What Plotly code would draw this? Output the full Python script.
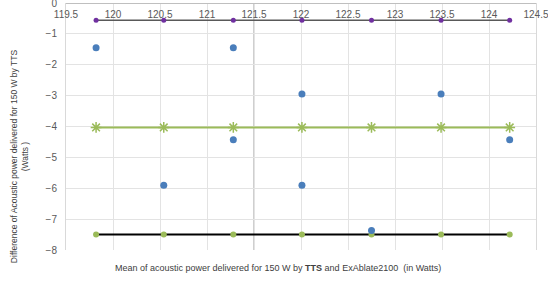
import plotly.graph_objects as go

# Data
mean_power = [119.82, 120.54, 121.28, 122.01, 122.75, 123.49, 124.22]
diff_x = [119.82, 120.54, 121.28, 121.28, 122.01, 122.01, 122.75, 123.49, 124.22]
diff_y = [-1.45, -5.90, -1.45, -4.43, -2.95, -5.90, -7.37, -2.95, -4.43]
mean_diff = -4.03
upper_loa = -0.56
lower_loa = -7.50

x_ticks = [119.5, 120, 120.5, 121, 121.5, 122, 122.5, 123, 123.5, 124, 124.5]
x_tick_text = ["119.5", "120", "120.5", "121", "121.5", "122", "122.5", "123", "123.5", "124", "124.5"]
y_ticks = [0, -1, -2, -3, -4, -5, -6, -7, -8]

FONT = "Liberation Sans"

fig = go.Figure()

fig.add_trace(go.Scatter(
    x=mean_power, y=[upper_loa] * len(mean_power), mode="lines+markers",
    line=dict(color="#595959", width=1.5),
    marker=dict(color="#7030A0", size=5), showlegend=False))

fig.add_trace(go.Scatter(
    x=mean_power, y=[lower_loa] * len(mean_power), mode="lines+markers",
    line=dict(color="#000000", width=2),
    marker=dict(color="#9BBB59", size=6), showlegend=False))

fig.add_trace(go.Scatter(
    x=mean_power, y=[mean_diff] * len(mean_power), mode="lines+markers",
    line=dict(color="#9BBB59", width=2),
    marker=dict(symbol="asterisk-open", color="#9BBB59", size=9,
                line=dict(color="#9BBB59", width=1.5)),
    showlegend=False))

fig.add_trace(go.Scatter(
    x=diff_x, y=diff_y, mode="markers",
    marker=dict(color="#4A7EBB", size=7), showlegend=False))

fig.add_shape(type="line", xref="x", yref="paper", x0=121.5, x1=121.5, y0=0, y1=1,
              line=dict(color="#cfcfcf", width=2), layer="below")

fig.update_layout(
    width=548, height=293,
    margin=dict(l=66, r=12, t=3, b=43, autoexpand=False),
    paper_bgcolor="white", plot_bgcolor="white",
    font=dict(family=FONT, color="#595959", size=10),
    xaxis=dict(
        range=[119.5, 124.5], tickvals=x_ticks, ticktext=x_tick_text,
        anchor="free", position=1, side="bottom",
        showgrid=True, gridcolor="#e3e3e3", gridwidth=1,
        showline=True, linecolor="#bfbfbf", linewidth=1, mirror=True,
        zeroline=False, ticks="", ticklabelstandoff=2, ticklabeloverflow="allow",
        tickfont=dict(size=10, color="#595959"), automargin=False,
    ),
    yaxis=dict(
        range=[-8, 0], tickvals=y_ticks,
        showgrid=True, gridcolor="#e3e3e3", gridwidth=1,
        showline=True, linecolor="#d9d9d9", linewidth=1, mirror=True,
        zeroline=False, ticks="", ticklabelstandoff=6, ticklabeloverflow="allow",
        tickfont=dict(size=10, color="#595959"), automargin=False,
    ),
)

fig.add_annotation(
    xref="paper", yref="paper", x=0.45, y=0, yanchor="middle", yshift=-18,
    text="Mean of acoustic power delivered for 150 W by <b>TTS</b> and ExAblate2100  (in Watts)",
    showarrow=False, font=dict(family=FONT, size=9, color="#404040"))

fig.add_annotation(
    xref="paper", yref="paper", x=0, y=0.38, xanchor="center", yanchor="middle",
    xshift=-47, textangle=-90,
    text="Difference of Acoustic power delivered for 150 W by TTS<br>(Watts )",
    showarrow=False, font=dict(family=FONT, size=8.5, color="#404040"))

fig.write_html("out.html", config={"displayModeBar": False},
               post_script="document.body.style.margin='0px';document.body.style.padding='0px';")
